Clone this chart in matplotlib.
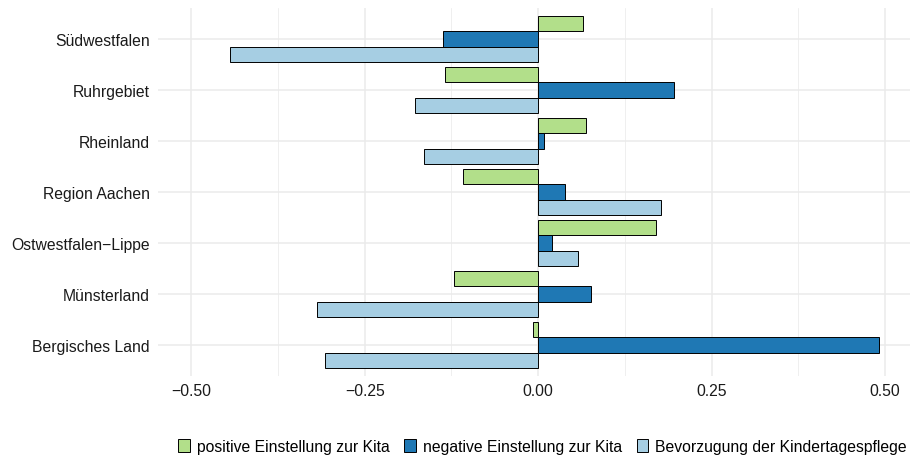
import matplotlib
matplotlib.use("Agg")
import matplotlib.pyplot as plt
import numpy as np
from matplotlib.patches import Patch

regions = ["Südwestfalen", "Ruhrgebiet", "Rheinland", "Region Aachen",
           "Ostwestfalen\u2212Lippe", "Münsterland", "Bergisches Land"]
positive = [0.065, -0.135, 0.069, -0.108, 0.170, -0.121, -0.008]
negative = [-0.137, 0.196, 0.008, 0.038, 0.020, 0.076, 0.492]
tagespflege = [-0.444, -0.177, -0.165, 0.177, 0.057, -0.319, -0.307]
series_labels = ["positive Einstellung zur Kita", "negative Einstellung zur Kita",
                 "Bevorzugung der Kindertagespflege"]
colors = ["#B2DF8A", "#1F78B4", "#A6CEE3"]
xticks = [-0.50, -0.25, 0.00, 0.25, 0.50]
xticklabels = ["\u22120.50", "\u22120.25", "0.00", "0.25", "0.50"]

plt.rcParams['font.family'] = ['Liberation Sans', 'DejaVu Sans']
fs = 11.3

fig = plt.figure(figsize=(9.10, 4.64), dpi=100)
ax = fig.add_axes([158/910, 1 - 376.6/464, (910-158)/910, (376.6-9.4)/464])

y = np.arange(len(regions))
h = 0.3
for k, (vals, c) in enumerate(zip([positive, negative, tagespflege], colors)):
    ax.barh(y + (k - 1) * h, vals, height=h, color=c, edgecolor="black",
            linewidth=0.7, zorder=3)

ax.set_ylim(len(regions) - 1 + 0.6, -0.6)
ax.set_xlim(-0.548, 0.536)
ax.set_yticks(y)
ax.set_yticklabels(regions, fontsize=fs, color="#1a1a1a")
ax.set_xticks(xticks)
ax.set_xticklabels(xticklabels, fontsize=fs, color="#1a1a1a")
ax.set_xticks([-0.375, -0.125, 0.125, 0.375], minor=True)
ax.grid(True, which="major", color="#EBEBEB", linewidth=1.1, zorder=0)
ax.grid(True, which="minor", axis="x", color="#EBEBEB", linewidth=0.55, zorder=0)
ax.tick_params(axis="y", which="both", length=0, pad=5.8)
ax.tick_params(axis="x", which="both", length=0, pad=5.0)
for s in ax.spines.values():
    s.set_visible(False)

handles = [Patch(facecolor=c, edgecolor="black", linewidth=0.7) for c in colors]
fig.legend(handles, series_labels, loc="center", bbox_to_anchor=(542.5/910, 1 - 447.5/464),
           ncol=3, frameon=False, fontsize=fs, handlelength=0.72, handleheight=0.9,
           handletextpad=0.45, columnspacing=0.95, borderpad=0, borderaxespad=0)

fig.savefig("out.png", dpi=100)
